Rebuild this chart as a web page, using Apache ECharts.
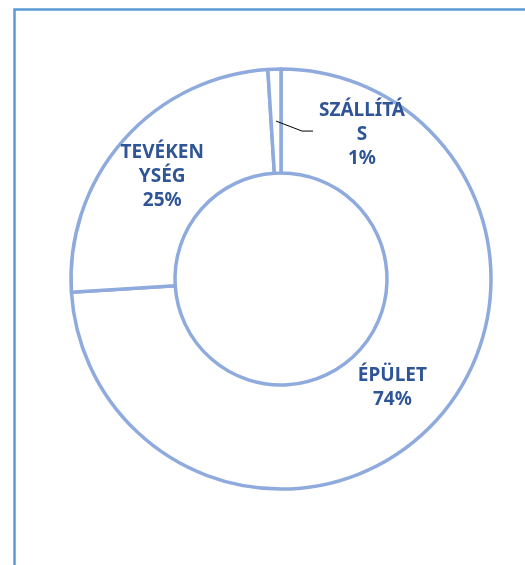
<!DOCTYPE html>
<html><head><meta charset="utf-8">
<script src="https://cdn.jsdelivr.net/npm/echarts@6/dist/echarts.min.js"></script>
<style>html,body{margin:0;padding:0;background:#fff}#c{width:525px;height:565px}</style>
</head><body><div id="c"></div>
<script>
var categories = ["ÉPÜLET", "TEVÉKENYSÉG", "SZÁLLÍTÁS"];
var values = [74, 25, 1];
var wrappedLabels = ["ÉPÜLET", "TEVÉKEN\nYSÉG", "SZÁLLÍTÁ\nS"];

var CX = 281, CY = 279, R0 = 106, R1 = 210;
var chart = echarts.init(document.getElementById('c'), null, {renderer: 'canvas'});
var total = values.reduce(function(a, b){ return a + b; }, 0);
function midAngle(i) {
  var before = 0;
  for (var k = 0; k < i; k++) before += values[k];
  return (before + values[i] / 2) / total * 2 * Math.PI; // clockwise from top
}
var labelFont = {
  fontFamily: '"Noto Sans", sans-serif',
  fontWeight: 'bold', fontSize: 19, lineHeight: 24, color: '#2F5597', align: 'center'
};
var labelShift = [[-6, -2], [2, 4], [0, 0]];
var a2 = midAngle(2), rm = (R0 + R1) / 2;
var sx = CX + rm * Math.sin(a2), sy = CY - rm * Math.cos(a2);

chart.setOption({
  animation: false,
  graphic: [
    {type: 'rect', shape: {x: 14.5, y: 9.5, width: 700, height: 700},
      style: {fill: 'none', stroke: '#5B9BD5', lineWidth: 2.5}, z: -1},
    {type: 'polyline', shape: {points: [[sx, sy], [sx + 26, sy + 10], [sx + 37, sy + 10]]},
      style: {fill: 'none', stroke: '#000', lineWidth: 1}, z: 10}
  ],
  series: [{
    type: 'pie',
    center: [CX, CY],
    radius: [R0, R1],
    startAngle: 90,
    clockwise: true,
    silent: true,
    itemStyle: {color: '#fff', borderColor: '#8FAADC', borderWidth: 3.5},
    label: Object.assign({
      position: 'inside',
      formatter: function(p){ return wrappedLabels[p.dataIndex] + '\n' + Math.round(p.percent) + '%'; }
    }, labelFont),
    labelLine: {show: false},
    labelLayout: function(p){
      if (p.dataIndex !== 2) {
        return {dx: labelShift[p.dataIndex][0], dy: labelShift[p.dataIndex][1]};
      }
      return {x: CX + 81, y: CY - 144, align: 'center', verticalAlign: 'middle'};
    },
    data: categories.map(function(name, i){ return {name: name, value: values[i]}; })
  }]
});
</script></body></html>
